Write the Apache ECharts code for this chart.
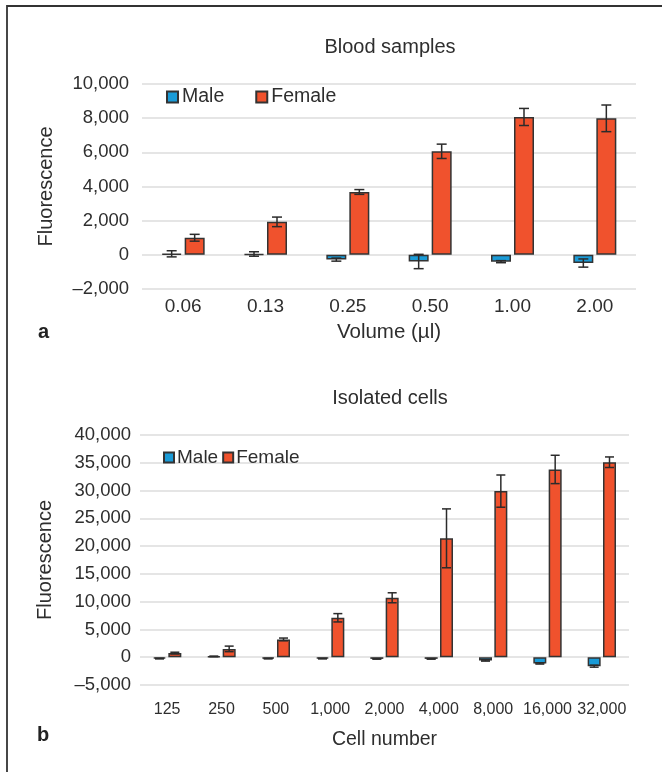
<!DOCTYPE html>
<html>
<head>
<meta charset="utf-8">
<script src="https://cdn.jsdelivr.net/npm/echarts@6/dist/echarts.min.js"></script>
<style>
html,body{margin:0;padding:0;background:#fff;}
#c{width:662px;height:772px;}
</style>
</head>
<body>
<div id="c"></div>
<script>
// ---- Data ----
var categoriesA = ['0.06', '0.13', '0.25', '0.50', '1.00', '2.00'];
var maleA = [60, 50, -280, -390, -400, -480];
var maleErrA = [180, 130, 90, 420, 60, 240];
var femaleA = [1000, 1930, 3680, 6060, 8070, 7990];
var femaleErrA = [200, 280, 140, 420, 500, 780];
var yTicksA = { min: -2000, max: 10000, interval: 2000 };

var categoriesB = ['125', '250', '500', '1,000', '2,000', '4,000', '8,000', '16,000', '32,000'];
var maleB = [-250, 150, -250, -250, -300, -300, -600, -1130, -1610];
var maleErrB = [50, 50, 50, 50, 50, 50, 100, 100, 180];
var femaleB = [750, 1500, 3200, 7100, 10700, 21400, 29900, 33800, 35100];
var femaleErrB = [150, 500, 250, 750, 900, 5300, 2900, 2550, 950];
var yTicksB = { min: -5000, max: 40000, interval: 5000 };

var FONT = "'Liberation Sans', Arial, Helvetica, sans-serif";
var TXT = '#2e2e2e';
var BLUE = '#1a9bd7';
var ORANGE = '#f0522d';
var EDGE = '#333';

function fmt(v) {
  var s = String(Math.abs(v)).replace(/\B(?=(\d{3})+(?!\d))/g, ',');
  return (v < 0 ? '\u2013' : '') + s;
}

function errData(vals, errs) {
  return vals.map(function (v, i) { return [i, v, errs[i]]; });
}

function makeErr(sign, barW, gapPct, capW) {
  return function (params, api) {
    var x = api.value(0), v = api.value(1), e = api.value(2);
    var hi = api.coord([x, v + e]);
    var lo = api.coord([x, v - e]);
    var gap = barW * gapPct;
    var cx = hi[0] + sign * (barW + gap) / 2;
    var st = { stroke: '#2b2b2b', lineWidth: 1.5 };
    return {
      type: 'group',
      children: [
        { type: 'line', shape: { x1: cx, y1: hi[1], x2: cx, y2: lo[1] }, style: st },
        { type: 'line', shape: { x1: cx - capW / 2, y1: hi[1], x2: cx + capW / 2, y2: hi[1] }, style: st },
        { type: 'line', shape: { x1: cx - capW / 2, y1: lo[1], x2: cx + capW / 2, y2: lo[1] }, style: st }
      ]
    };
  };
}

var BW_A = 20, GAP_A = 0.15, BW_B = 13, GAP_B = 0.18;

var chart = echarts.init(document.getElementById('c'), null, { renderer: 'canvas' });

var option = {
  backgroundColor: '#fff',
  animation: false,
  textStyle: { fontFamily: FONT, color: TXT },
  graphic: [
    { type: 'rect', shape: { x: 7, y: 6, width: 720, height: 820 }, style: { fill: 'none', stroke: '#333', lineWidth: 1.8 }, silent: true },
    { type: 'text', left: 38, top: 322, style: { text: 'a', font: "bold 20px " + FONT, fill: '#222' } },
    { type: 'text', left: 37, top: 725, style: { text: 'b', font: "bold 20px " + FONT, fill: '#222' } }
  ],
  title: [
    { text: 'Blood samples', left: 385, top: 32, textAlign: 'center', textStyle: { fontFamily: FONT, fontSize: 20, fontWeight: 'normal', color: TXT } },
    { text: 'Isolated cells', left: 385, top: 383, textAlign: 'center', textStyle: { fontFamily: FONT, fontSize: 20, fontWeight: 'normal', color: TXT } }
  ],
  legend: [
    {
      data: ['Male', 'Female'], left: 161, top: 82, itemWidth: 11, itemHeight: 11, itemGap: 31,
      icon: 'rect', textStyle: { fontFamily: FONT, fontSize: 19.5, color: TXT, padding: [0, 0, 0, -1] },
      selectedMode: false
    },
    {
      data: ['Male', 'Female'], left: 158, top: 443, itemWidth: 10, itemHeight: 10, itemGap: 4,
      icon: 'rect', textStyle: { fontFamily: FONT, fontSize: 19, color: TXT, padding: [0, 0, 0, -2] },
      selectedMode: false
    }
  ],
  grid: [
    { left: 142, top: 84, width: 494, height: 205, containLabel: false },
    { left: 140, top: 435, width: 489, height: 250, containLabel: false }
  ],
  xAxis: [
    {
      type: 'category', gridIndex: 0, data: categoriesA,
      axisLine: { show: false }, axisTick: { show: false },
      axisLabel: { fontFamily: FONT, fontSize: 19, color: TXT, margin: 8, interval: 0 },
      name: 'Volume (\u00b5l)', nameLocation: 'middle', nameGap: 33,
      nameTextStyle: { fontFamily: FONT, fontSize: 20.5, color: TXT }
    },
    {
      type: 'category', gridIndex: 1, data: categoriesB,
      axisLine: { show: false }, axisTick: { show: false },
      axisLabel: { fontFamily: FONT, fontSize: 16, color: TXT, margin: 17, interval: 0 },
      name: 'Cell number', nameLocation: 'middle', nameGap: 45,
      nameTextStyle: { fontFamily: FONT, fontSize: 19.5, color: TXT }
    }
  ],
  yAxis: [
    {
      type: 'value', gridIndex: 0, min: yTicksA.min, max: yTicksA.max, interval: yTicksA.interval,
      axisLine: { show: false }, axisTick: { show: false },
      axisLabel: { fontFamily: FONT, fontSize: 18.5, color: TXT, margin: 13, formatter: fmt },
      splitLine: { show: true, lineStyle: { color: '#dcdcdc', width: 1.5 } },
      name: 'Fluorescence', nameLocation: 'middle', nameGap: 86, nameRotate: 90,
      nameTextStyle: { fontFamily: FONT, fontSize: 20, color: TXT }
    },
    {
      type: 'value', gridIndex: 1, min: yTicksB.min, max: yTicksB.max, interval: yTicksB.interval,
      axisLine: { show: false }, axisTick: { show: false },
      axisLabel: { fontFamily: FONT, fontSize: 18.5, color: TXT, margin: 9, formatter: fmt },
      splitLine: { show: true, lineStyle: { color: '#dcdcdc', width: 1.5 } },
      name: 'Fluorescence', nameLocation: 'middle', nameGap: 85, nameRotate: 90,
      nameTextStyle: { fontFamily: FONT, fontSize: 20, color: TXT }
    }
  ],
  series: [
    {
      name: 'Male', type: 'bar', xAxisIndex: 0, yAxisIndex: 0, data: maleA,
      barWidth: BW_A, barGap: (GAP_A * 100) + '%',
      itemStyle: { color: BLUE, borderColor: EDGE, borderWidth: 1.5 }
    },
    {
      name: 'Female', type: 'bar', xAxisIndex: 0, yAxisIndex: 0, data: femaleA,
      barWidth: BW_A, barGap: (GAP_A * 100) + '%',
      itemStyle: { color: ORANGE, borderColor: EDGE, borderWidth: 1.5 }
    },
    {
      name: 'Male', type: 'bar', xAxisIndex: 1, yAxisIndex: 1, data: maleB,
      barWidth: BW_B, barGap: (GAP_B * 100) + '%',
      itemStyle: { color: BLUE, borderColor: EDGE, borderWidth: 1.5 }
    },
    {
      name: 'Female', type: 'bar', xAxisIndex: 1, yAxisIndex: 1, data: femaleB,
      barWidth: BW_B, barGap: (GAP_B * 100) + '%',
      itemStyle: { color: ORANGE, borderColor: EDGE, borderWidth: 1.5 }
    },
    {
      name: 'errMaleA', type: 'custom', xAxisIndex: 0, yAxisIndex: 0, z: 5,
      data: errData(maleA, maleErrA), renderItem: makeErr(-1, BW_A, GAP_A, 10), encode: { x: 0, y: 1 }
    },
    {
      name: 'errFemaleA', type: 'custom', xAxisIndex: 0, yAxisIndex: 0, z: 5,
      data: errData(femaleA, femaleErrA), renderItem: makeErr(1, BW_A, GAP_A, 10), encode: { x: 0, y: 1 }
    },
    {
      name: 'errMaleB', type: 'custom', xAxisIndex: 1, yAxisIndex: 1, z: 5,
      data: errData(maleB, maleErrB), renderItem: makeErr(-1, BW_B, GAP_B, 9), encode: { x: 0, y: 1 }
    },
    {
      name: 'errFemaleB', type: 'custom', xAxisIndex: 1, yAxisIndex: 1, z: 5,
      data: errData(femaleB, femaleErrB), renderItem: makeErr(1, BW_B, GAP_B, 9), encode: { x: 0, y: 1 }
    }
  ]
};

chart.setOption(option);
</script>
</body>
</html>
